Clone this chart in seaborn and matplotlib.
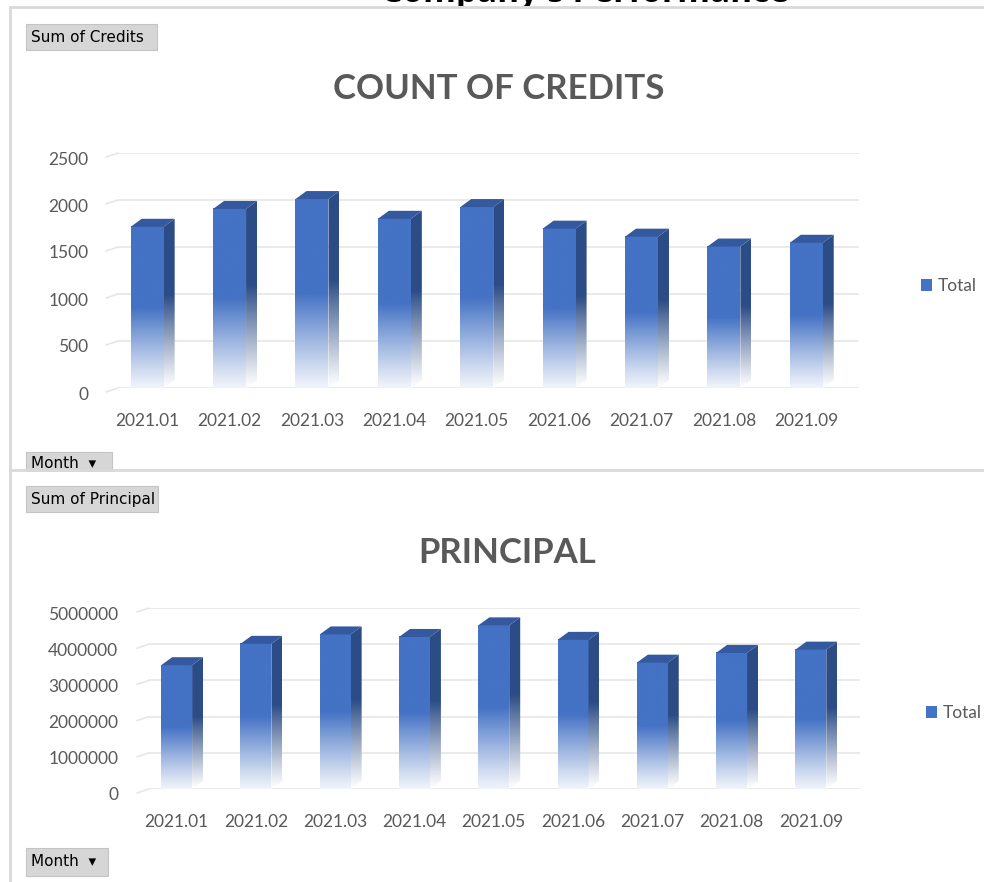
import numpy as np
import pandas as pd
import matplotlib
matplotlib.use("Agg")
import matplotlib.pyplot as plt
import seaborn as sns
from matplotlib.patches import Polygon, Rectangle, Patch
from matplotlib.transforms import Bbox, ScaledTranslation
from matplotlib.lines import Line2D

# ---------------- data ----------------
months = ["2021.01", "2021.02", "2021.03", "2021.04", "2021.05",
          "2021.06", "2021.07", "2021.08", "2021.09"]
credits = [1715, 1905, 2010, 1800, 1925, 1695, 1610, 1505, 1545]
principal = [3420000, 4010000, 4270000, 4200000, 4520000,
             4120000, 3490000, 3760000, 3850000]
credit_ticks = [0, 500, 1000, 1500, 2000, 2500]
principal_ticks = [0, 1000000, 2000000, 3000000, 4000000, 5000000]
legend_label = "Total"

W, H = 984, 882
sns.set_theme(style="white")
plt.rcParams["font.family"] = ["Lato", "DejaVu Sans"]

fig = plt.figure(figsize=(W / 100, H / 100), dpi=100)
fig.patch.set_facecolor("white")

GREY = "#595959"
FRONT = np.array(matplotlib.colors.to_rgb("#4472C4"))
SIDE = np.array(matplotlib.colors.to_rgb("#2C4C86"))
TOPC = "#34599F"
GRID = "#E6E6E6"


def px_axes(left, top, right, bottom):
    return fig.add_axes([left / W, 1 - bottom / H, (right - left) / W, (bottom - top) / H])


def gradient(base, n=256, solid_from=0.5, floor=0.08):
    t = np.linspace(0, 1, n)
    s = np.clip(t / solid_from, 0, 1)
    s = floor + (1 - floor) * s ** 1.1
    rgb = (1 - s)[:, None] * np.ones(3) + s[:, None] * base
    return rgb[:, None, :]


def draw_chart(ax, values, ticks, xlim, ylim, title, title_xy, bar_w, ylab_pad, leg_xy):
    df = pd.DataFrame({"Month": months, "Value": values})
    sns.barplot(data=df, x="Month", y="Value", ax=ax, width=bar_w, color="#4472C4",
                saturation=1, edgecolor="none", zorder=2)
    ax.set_xlim(*xlim)
    ax.set_ylim(*ylim)
    fig.canvas.draw()
    inv = ax.transData.inverted()
    p0 = ax.transData.transform((0, 0))
    d = inv.transform(p0 + np.array([11, 8])) - np.array([0, 0])
    dx, dy = d[0], d[1]
    g = inv.transform(p0 + np.array([12, 4])) - np.array([0, 0])

    # gridlines on back wall with side wall diagonals
    for t in ticks:
        ax.plot([xlim[0] + g[0], xlim[1]], [t, t], color=GRID, lw=1.2, zorder=0.5)
        ax.plot([xlim[0], xlim[0] + g[0]], [t - g[1], t], color=GRID, lw=1.2,
                zorder=0.5, clip_on=False)

    front_img = gradient(FRONT)
    side_img = gradient(SIDE, solid_from=0.55, floor=0.0)
    for p in list(ax.patches):
        x, w, h = p.get_x(), p.get_width(), p.get_height()
        p.set_facecolor("none")
        ax.imshow(front_img, extent=(x, x + w, 0, h), origin="lower", aspect="auto",
                  interpolation="bilinear", zorder=3)
        side = Polygon([(x + w, 0), (x + w + dx, dy), (x + w + dx, h + dy), (x + w, h)],
                       closed=True, facecolor="none", edgecolor="none")
        ax.add_patch(side)
        im = ax.imshow(side_img, extent=(x + w, x + w + dx, 0, h + dy), origin="lower",
                       aspect="auto", interpolation="bilinear", zorder=3)
        im.set_clip_path(side)
        top = Polygon([(x, h), (x + dx, h + dy), (x + w + dx, h + dy), (x + w, h)],
                      closed=True, facecolor=TOPC, edgecolor="none", zorder=3)
        ax.add_patch(top)

    ax.set_xlim(*xlim)
    ax.set_ylim(*ylim)
    ax.set_yticks(ticks)
    ax.set_yticklabels([str(t) for t in ticks])
    ax.set_xlabel("")
    ax.set_ylabel("")
    for s in ax.spines.values():
        s.set_visible(False)
    ax.grid(False)
    ax.tick_params(axis="y", length=0, pad=ylab_pad, labelsize=12.5, labelcolor=GREY)
    ax.tick_params(axis="x", length=0, pad=18, labelsize=12.5, labelcolor=GREY)
    shift = ScaledTranslation(0, -5 / 100, fig.dpi_scale_trans)
    for lab in ax.get_yticklabels():
        lab.set_transform(lab.get_transform() + shift)
    ax.set_facecolor("none")

    fig.text(title_xy[0] / W, 1 - title_xy[1] / H, title, ha="center", va="center",
             fontsize=25, fontweight="bold", color=GREY)
    handle = Patch(facecolor="#4472C4", edgecolor="none")
    fig.legend([handle], [legend_label], loc="center left",
               bbox_to_anchor=(leg_xy[0] / W, 1 - leg_xy[1] / H),
               frameon=False, handlelength=0.65, handleheight=0.65, handletextpad=0.3,
               borderpad=0, borderaxespad=0, fontsize=12.5, labelcolor=GREY)


# top chart
ax1 = px_axes(106, 153, 859, 388)
draw_chart(ax1, credits, credit_ticks, (-0.5, 8.64), (0, 2500), "COUNT OF CREDITS",
           (499, 89), 0.40, 12.5, (921, 286))

# bottom chart
ax2 = px_axes(137, 608, 860, 789)
draw_chart(ax2, principal, principal_ticks, (-0.5, 8.62), (0, 5000000), "PRINCIPAL",
           (507, 553), 0.39, 13.5, (926, 713))

# frame lines
frame_col = "#D9D9D9"
fig.add_artist(Line2D([10 / W, 10 / W], [0, 1 - 7 / H], color=frame_col, lw=2,
                      transform=fig.transFigure))
fig.add_artist(Line2D([10 / W, 1], [1 - 7 / H, 1 - 7 / H], color=frame_col, lw=2,
                      transform=fig.transFigure))

# page title above the chart frame (only its lower edge shows, as in the reference)
t = fig.text(585 / W, 1 - 2 / H, "Company's Performance", ha="center", va="baseline",
             fontsize=24, fontweight="bold", color="black", family=["Open Sans", "DejaVu Sans"])
t.set_clip_box(Bbox.from_extents(0, H - 6, W, H))
t.set_clip_on(True)


# pivot field buttons
def button(left, top, right, bottom, label):
    fig.add_artist(Rectangle((left / W, 1 - bottom / H), (right - left) / W, (bottom - top) / H,
                             transform=fig.transFigure, facecolor="#D6D6D6",
                             edgecolor="#C4C4C4", lw=0.8))
    fig.text((left + 5) / W, 1 - (top + bottom) / 2 / H, label, ha="left", va="center",
             fontsize=11, color="black",
             family=["Liberation Sans Narrow", "DejaVu Sans"])


button(26, 24, 157, 50, "Sum of Credits")
button(26, 452, 112, 474, "Month  \u25be")
button(26, 486, 158, 512, "Sum of Principal")
button(26, 848, 108, 876, "Month  \u25be")
# separator between the two pivot charts (cuts the first Month button)
fig.add_artist(Line2D([10 / W, 1], [1 - 470.5 / H, 1 - 470.5 / H], color=frame_col, lw=2,
                      transform=fig.transFigure))
fig.add_artist(Rectangle((10.5 / W, 1 - 477 / H), (W - 10.5) / W, 5.5 / H,
                         transform=fig.transFigure, facecolor="white", edgecolor="none"))

fig.savefig("out.png", dpi=100)
